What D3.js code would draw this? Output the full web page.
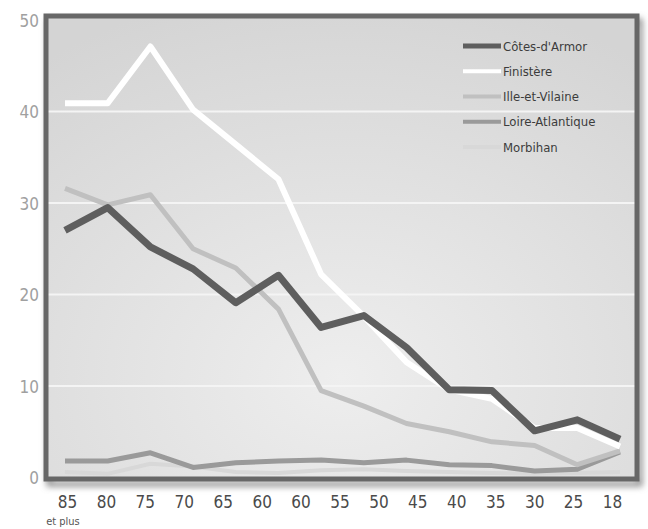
<!DOCTYPE html>
<html>
<head>
<meta charset="utf-8">
<script src="https://cdn.jsdelivr.net/npm/d3@7"></script>
<style>
  body { margin: 0; background: #fff; }
  svg { display: block; }
  text { font-family: "Liberation Sans Narrow", "DejaVu Sans Condensed", sans-serif; font-stretch: condensed; }
</style>
</head>
<body>
<svg id="chart" width="648" height="529"></svg>
<script>
// Age groups plotted (one vertex per group) and the printed axis labels
const ageGroups = ["85+", "80", "75", "70", "65", "60", "55", "50", "45", "40", "35", "30", "25", "18"];
const ageLabels = ["85", "80", "75", "70", "65", "60", "60", "55", "50", "45", "40", "35", "30", "25", "18"];
const yTicks = [0, 10, 20, 30, 40, 50];

// Values per département
const cotesArmor      = [27.0, 29.5, 25.2, 22.8, 19.1, 22.1, 16.4, 17.7, 14.2, 9.6, 9.5, 5.1, 6.3, 4.2];
const finistere       = [40.9, 40.9, 47.1, 40.2, 36.4, 32.6, 22.2, 17.6, 12.6, 9.6, 8.6, 5.4, 5.4, 3.4];
const illeEtVilaine   = [31.6, 29.8, 30.9, 25.0, 22.9, 18.4, 9.5, 7.8, 5.9, 5.0, 3.9, 3.5, 1.4, 2.9];
const loireAtlantique = [1.8, 1.8, 2.7, 1.1, 1.6, 1.8, 1.9, 1.6, 1.9, 1.4, 1.3, 0.7, 0.9, 2.8];
const morbihan        = [0.6, 0.4, 1.5, 1.2, 0.6, 0.5, 0.8, 0.9, 0.7, 0.6, 0.5, 0.4, 0.5, 0.6];

const seriesNames = ["Côtes-d'Armor", "Finistère", "Ille-et-Vilaine", "Loire-Atlantique", "Morbihan"];
const seriesValues = [cotesArmor, finistere, illeEtVilaine, loireAtlantique, morbihan];
const seriesColors = ["#5e5e5e", "#ffffff", "#c0c0c0", "#9a9a9a", "#d8d8d8"];
const seriesWidths = [7, 6, 5, 5, 4];

const svg = d3.select("#chart");
const defs = svg.append("defs");

// Panel background: soft light-grey radial wash
const bg = defs.append("radialGradient").attr("id", "panelBg")
  .attr("cx", "0.5").attr("cy", "0.78").attr("r", "0.85");
bg.append("stop").attr("offset", "0%").attr("stop-color", "#eeeeee");
bg.append("stop").attr("offset", "100%").attr("stop-color", "#d4d4d4");

const shadow = defs.append("filter").attr("id", "frameShadow")
  .attr("x", "-5%").attr("y", "-5%").attr("width", "115%").attr("height", "115%");
shadow.append("feGaussianBlur").attr("stdDeviation", 3);

const frame = { left: 46, top: 16, right: 637, bottom: 479 };

const x = d3.scaleLinear().domain([0, ageGroups.length - 1]).range([65, 620]);
const xLabel = d3.scalePoint().domain(d3.range(ageLabels.length)).range([67, 612]);
const y = d3.scaleLinear().domain([0, 50]).range([477.5, 20]);

// Frame shadow
svg.append("rect")
  .attr("x", frame.left + 3).attr("y", frame.top + 5)
  .attr("width", frame.right - frame.left).attr("height", frame.bottom - frame.top)
  .attr("fill", "none").attr("stroke", "#8a8a8a").attr("stroke-width", 5)
  .attr("filter", "url(#frameShadow)");

// Panel
svg.append("rect")
  .attr("x", frame.left).attr("y", frame.top)
  .attr("width", frame.right - frame.left).attr("height", frame.bottom - frame.top)
  .attr("fill", "url(#panelBg)");

// Horizontal gridlines
svg.append("g").selectAll("line")
  .data(yTicks.filter(d => d > 0 && d < 50))
  .join("line")
  .attr("x1", frame.left).attr("x2", frame.right)
  .attr("y1", d => y(d)).attr("y2", d => y(d))
  .attr("stroke", "#f4f4f4").attr("stroke-width", 2);

// Series lines, lightest first so the dark line sits on top
const line = d3.line().x((d, i) => x(i)).y(d => y(d)).curve(d3.curveLinear);
const order = [4, 3, 2, 1, 0];
svg.append("g").selectAll("path")
  .data(order)
  .join("path")
  .attr("d", k => line(seriesValues[k]))
  .attr("fill", "none")
  .attr("stroke", k => seriesColors[k])
  .attr("stroke-width", k => seriesWidths[k])
  .attr("stroke-linejoin", "round")
  .attr("stroke-linecap", "butt");

// Frame border
svg.append("rect")
  .attr("x", frame.left).attr("y", frame.top)
  .attr("width", frame.right - frame.left).attr("height", frame.bottom - frame.top)
  .attr("fill", "none").attr("stroke", "#676767").attr("stroke-width", 5);

// Y axis labels
const yAxis = d3.axisLeft(y).tickValues(yTicks).tickSize(0).tickPadding(0);
const gy = svg.append("g").attr("transform", "translate(39,0)").call(yAxis);
gy.select(".domain").remove();
gy.selectAll("text")
  .attr("fill", "#a0a0a0").attr("font-size", 17).attr("dy", "0.36em");

// X axis labels
const xAxis = d3.axisBottom(xLabel).tickFormat(i => ageLabels[i]).tickSize(0).tickPadding(0);
const gx = svg.append("g").attr("transform", "translate(0,496)").call(xAxis);
gx.select(".domain").remove();
gx.selectAll("text")
  .attr("fill", "#4a4a4a").attr("font-size", 17).attr("dy", "0.71em");

svg.append("text")
  .attr("x", xLabel(0) - 4).attr("y", 525)
  .attr("text-anchor", "middle")
  .attr("fill", "#555").attr("font-size", 11)
  .text("et plus");

// Legend
const legend = svg.append("g");
const rowY = d3.scalePoint().domain(d3.range(seriesNames.length)).range([46, 147]);
const rows = legend.selectAll("g").data(d3.range(seriesNames.length)).join("g")
  .attr("transform", k => `translate(0,${rowY(k)})`);
rows.append("line")
  .attr("x1", 463).attr("x2", 501).attr("y1", 0).attr("y2", 0)
  .attr("stroke", k => seriesColors[k])
  .attr("stroke-width", k => k === 0 ? 5 : 4);
rows.append("text")
  .attr("x", 503).attr("y", 0).attr("dy", "0.35em")
  .attr("fill", "#3c3c3c").attr("font-size", 13)
  .text(k => seriesNames[k]);
</script>
</body>
</html>
